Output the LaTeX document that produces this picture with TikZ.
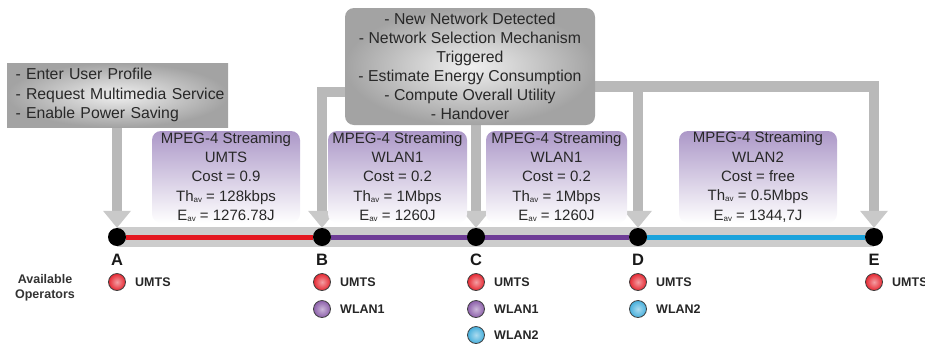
\documentclass[tikz,border=0pt]{standalone}
\usepackage{fontspec}
\setmainfont{Liberation Sans}
\usetikzlibrary{arrows.meta,backgrounds,calc}
\definecolor{pboxtop}{RGB}{172,152,200}
\definecolor{lred}{RGB}{228,24,32}
\definecolor{lpurple}{RGB}{110,60,150}
\definecolor{lblue}{RGB}{26,163,220}
\definecolor{txt}{RGB}{40,40,40}
\definecolor{opred}{RGB}{230,40,50}
\definecolor{oppurple}{RGB}{140,95,170}
\definecolor{opblue}{RGB}{70,175,220}
\newcommand\avsub{\raisebox{-0.15ex}{\fontsize{8}{8}\selectfont av}}
\begin{document}
\begin{tikzpicture}[x=1pt,y=-1pt,
  gbox/.style={inner color=gray!12, outer color=gray!72, text=txt,
    font=\fontsize{15.8}{19.5}\selectfont},
  pbox/.style={rounded corners=9pt, top color=pboxtop, bottom color=white,
    text=txt, align=center, font=\fontsize{15}{19.3}\selectfont, inner sep=0pt},
  dot/.style={circle, minimum size=18pt, inner sep=0pt, fill=black},
  conn/.style={line width=10.5pt, draw=gray!55,
    -{Triangle[width=28pt,length=17pt,line width=0pt,color=gray!42]}},
  letter/.style={font=\fontsize{16.5}{16.5}\selectfont\bfseries, text=black!90, anchor=base, inner sep=0pt},
  opball/.style={circle, minimum size=17pt, inner sep=0pt, draw=black!75, line width=0.8pt},
  oplbl/.style={font=\fontsize{12.5}{15}\selectfont\bfseries, text=black!85, anchor=west, inner sep=0pt},
  band/.style={fill=gray!40},
  seg/.style={line width=5pt}
]
\useasboundingbox (0,0) rectangle (925,346);

% timeline points
\node[dot] (A) at (117,237) {};
\node[dot] (B) at (322,237) {};
\node[dot] (C) at (476,237) {};
\node[dot] (D) at (638,237) {};
\node[dot] (E) at (874,237) {};

% gray boxes
\node[gbox, minimum width=221pt, minimum height=64pt, text width=216pt, inner xsep=2.5pt, align=left]
  (left) at (117.5,95) {\hspace*{6pt}- Enter User Profile\\\hspace*{6pt}- Request Multimedia Service\\\hspace*{6pt}- Enable Power Saving};
\node[gbox, rounded corners=9pt, minimum width=250pt, minimum height=117pt, align=center, inner sep=0pt, font=\fontsize{15.8}{19}\selectfont]
  (main) at (470,66.5) {- New Network Detected\\- Network Selection Mechanism\\Triggered\\- Estimate Energy Consumption\\- Compute Overall Utility\\- Handover};

% purple boxes
\node[pbox, minimum width=148pt, minimum height=92pt] (p1) at (226,177)
  {MPEG-4 Streaming\\UMTS\\Cost = 0.9\\Th\avsub{} = 128kbps\\E\avsub{} = 1276.78J};
\node[pbox, minimum width=139pt, minimum height=92pt] (p2) at (397.5,177)
  {MPEG-4 Streaming\\WLAN1\\Cost = 0.2\\Th\avsub{} = 1Mbps\\E\avsub{} = 1260J};
\node[pbox, minimum width=141pt, minimum height=92pt] (p3) at (556.5,177)
  {MPEG-4 Streaming\\WLAN1\\Cost = 0.2\\Th\avsub{} = 1Mbps\\E\avsub{} = 1260J};
\node[pbox, minimum width=158pt, minimum height=92pt] (p4) at (758,177)
  {MPEG-4 Streaming\\WLAN2\\Cost = free\\Th\avsub{} = 0.5Mbps\\E\avsub{} = 1344,7J};

\coordinate (jl) at (322,92);
\coordinate (jr) at (874,86.5);

\begin{pgfonlayer}{background}
  \draw[conn] (A |- left.south) -- (A.north);
  \draw[conn] ([xshift=10pt]main.west |- jl) -| (B.north);
  \draw[conn] (C |- main.south) -- (C.north);
  \draw[conn] ([xshift=-10pt]main.east |- jr) -| (E.north);
  \draw[conn] (D |- jr) -- (D.north);
  \fill[band] ($(A)+(0,-10)$) rectangle ($(E)+(0,10)$);
  \draw[seg, lred] (A) -- (B);
  \draw[seg, lpurple] (B) -- (D);
  \draw[seg, lblue] (D) -- (E);
\end{pgfonlayer}

% letters
\node[letter] (lA) at (117,265) {A};
\node[letter] (lB) at (322,265) {B};
\node[letter] (lC) at (476,265) {C};
\node[letter] (lD) at (638,265) {D};
\node[letter] (lE) at (874,265) {E};

\node[font=\fontsize{12.5}{15}\selectfont\bfseries, text=black!80, align=center, inner sep=0pt]
  (avail) at (45,288) {Available\\Operators};

% operators
\node[opball, inner color=opred!45!white, outer color=opred] (oA1) at (117,282) {};
\node[oplbl] (tA1) at (135,282) {UMTS};

\node[opball, inner color=opred!45!white, outer color=opred] (oB1) at (322,282) {};
\node[oplbl] (tB1) at (340,282) {UMTS};
\node[opball, inner color=oppurple!45!white, outer color=oppurple] (oB2) at (322,309) {};
\node[oplbl] (tB2) at (340,309) {WLAN1};

\node[opball, inner color=opred!45!white, outer color=opred] (oC1) at (476,282) {};
\node[oplbl] (tC1) at (494,282) {UMTS};
\node[opball, inner color=oppurple!45!white, outer color=oppurple] (oC2) at (476,309) {};
\node[oplbl] (tC2) at (494,309) {WLAN1};
\node[opball, inner color=opblue!45!white, outer color=opblue] (oC3) at (476,335) {};
\node[oplbl] (tC3) at (494,335) {WLAN2};

\node[opball, inner color=opred!45!white, outer color=opred] (oD1) at (638,282) {};
\node[oplbl] (tD1) at (656,282) {UMTS};
\node[opball, inner color=opblue!45!white, outer color=opblue] (oD2) at (638,309) {};
\node[oplbl] (tD2) at (656,309) {WLAN2};

\node[opball, inner color=opred!45!white, outer color=opred] (oE1) at (874,282) {};
\node[oplbl] (tE1) at (892,282) {UMTS};
\end{tikzpicture}
\end{document}
